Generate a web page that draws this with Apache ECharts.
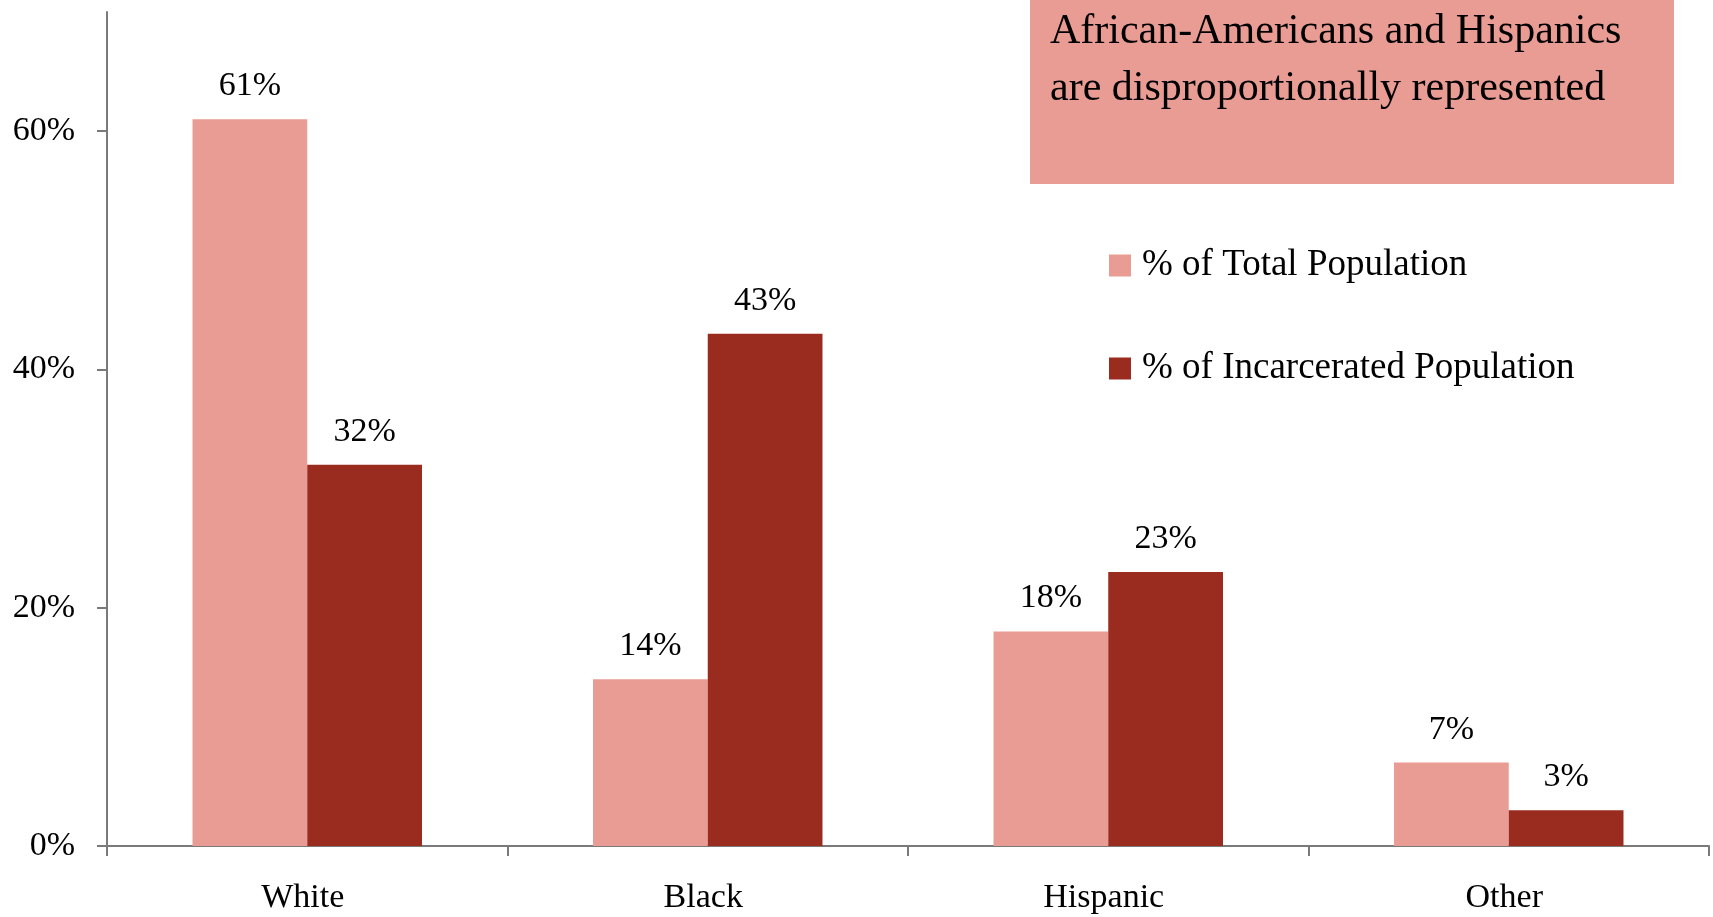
<!DOCTYPE html>
<html>
<head>
<meta charset="utf-8">
<script src="https://cdn.jsdelivr.net/npm/echarts@6/dist/echarts.min.js"></script>
<style>
html,body{margin:0;padding:0;background:#fff;}
#chart{width:1713px;height:917px;}
</style>
</head>
<body>
<div id="chart"></div>
<script>
const categories = ['White', 'Black', 'Hispanic', 'Other'];
const totalPopulation = [61, 14, 18, 7];
const incarceratedPopulation = [32, 43, 23, 3];
const yTicks = [0, 20, 40, 60];
const seriesNames = ['% of Total Population', '% of Incarcerated Population'];
const calloutLines = ['African-Americans and Hispanics', 'are disproportionally represented'];

const FONT = '"Liberation Serif", "DejaVu Serif", serif';
const LIGHT = '#E99C93';
const DARK = '#9A2B1F';
const AXIS = '#7a7a7a';

const chart = echarts.init(document.getElementById('chart'), null, {renderer: 'canvas'});
chart.setOption({
  backgroundColor: '#ffffff',
  animation: false,
  textStyle: {fontFamily: FONT},
  grid: {left: 107, right: 4, top: 12, bottom: 71, containLabel: false},
  xAxis: {
    type: 'category',
    data: categories,
    axisLine: {lineStyle: {color: AXIS, width: 2}},
    axisTick: {show: true, length: 10, lineStyle: {color: AXIS, width: 2}},
    axisLabel: {color: '#000', fontFamily: FONT, fontSize: 34, margin: 35, padding: [0, 9, 0, 0]}
  },
  yAxis: {
    type: 'value',
    min: 0, max: 70, interval: 20,
    splitLine: {show: false},
    axisLine: {show: true, lineStyle: {color: AXIS, width: 2}},
    axisTick: {show: true, length: 10, lineStyle: {color: AXIS, width: 2}, customValues: yTicks},
    axisLabel: {color: '#000', fontFamily: FONT, fontSize: 34, margin: 32,
      customValues: yTicks, formatter: v => v + '%'}
  },
  legend: {
    orient: 'vertical',
    left: 1109, top: 247, padding: 0,
    itemWidth: 22, itemHeight: 22, itemGap: 66,
    icon: 'rect',
    textStyle: {fontFamily: FONT, fontSize: 37, color: '#000', padding: [0, 0, 0, 6]},
    data: seriesNames
  },
  series: [
    {
      name: seriesNames[0], type: 'bar', data: totalPopulation,
      itemStyle: {color: LIGHT}, barGap: '0%', barCategoryGap: '42.7%',
      label: {show: true, position: 'top', distance: 16, formatter: p => p.value + '%',
        fontFamily: FONT, fontSize: 34, color: '#000'}
    },
    {
      name: seriesNames[1], type: 'bar', data: incarceratedPopulation,
      itemStyle: {color: DARK}, barGap: '0%', barCategoryGap: '42.7%',
      label: {show: true, position: 'top', distance: 16, formatter: p => p.value + '%',
        fontFamily: FONT, fontSize: 34, color: '#000'}
    }
  ],
  graphic: [
    {type: 'rect', left: 1030, top: 0, shape: {width: 644, height: 184}, style: {fill: LIGHT}, z: 0},
    {type: 'text', left: 1050, top: 3, z: 1,
      style: {text: calloutLines.join('\n'), font: '42px ' + FONT, lineHeight: 57, fill: '#000'}}
  ]
});
</script>
</body>
</html>
